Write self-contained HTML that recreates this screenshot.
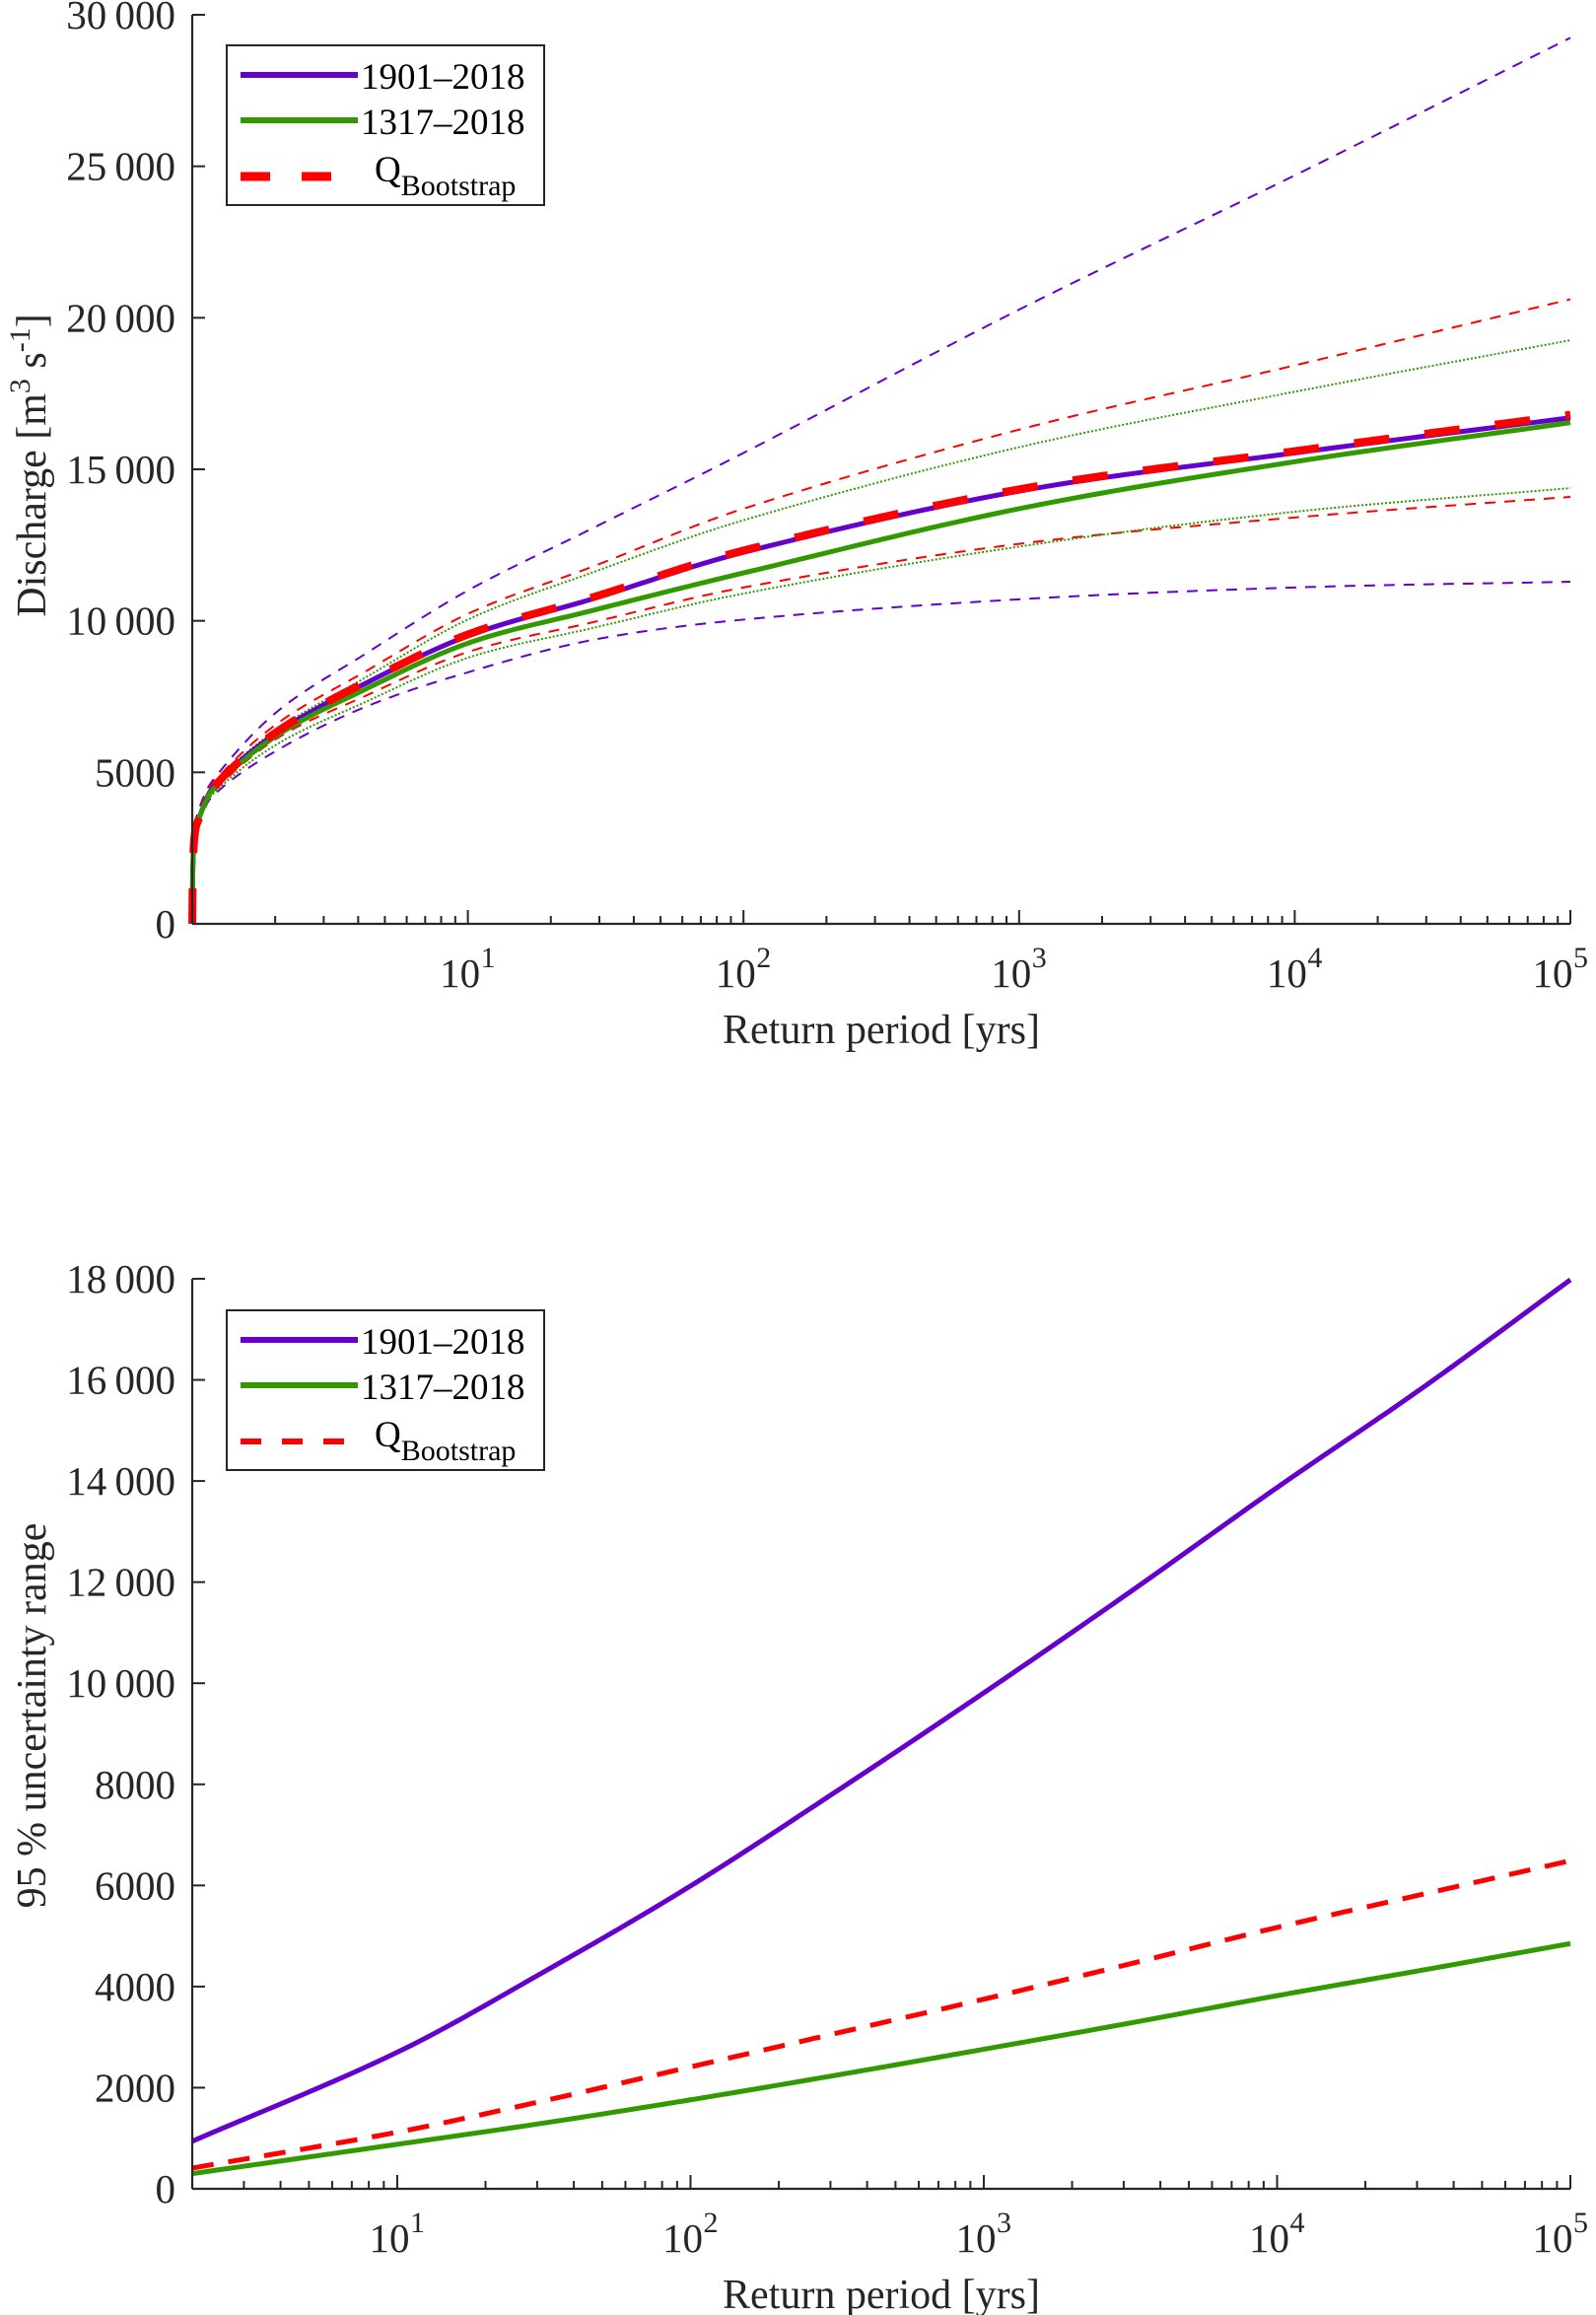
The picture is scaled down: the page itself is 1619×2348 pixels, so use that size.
<!DOCTYPE html>
<html><head><meta charset="utf-8">
<style>
html,body{margin:0;padding:0;background:#fff;}
svg{display:block;font-family:"Liberation Serif","DejaVu Serif",serif;}
</style></head>
<body>
<svg id="fig" width="1619" height="2348" viewBox="0 0 1619 2348" xmlns="http://www.w3.org/2000/svg"></svg>
<script>
// ---- Top chart data (return period [yrs] vs discharge) ----
const topT = [1.0001, 1.005, 1.02, 1.05, 1.18, 2, 4.2, 10, 28, 100, 1000, 10000, 100000];
const q1901 = [0, 1800, 2900, 3400, 4450, 6270, 7910, 9500, 10710, 12260, 14280, 15540, 16700];
const q1317 = [0, 1800, 2900, 3400, 4400, 6180, 7720, 9260, 10330, 11580, 13700, 15250, 16540];
const qBoot = [0, 1800, 2900, 3400, 4450, 6300, 7950, 9550, 10760, 12320, 14340, 15600, 16800];
const q1901Up = [0, 1800, 3000, 3700, 4700, 6950, 8880, 11000, 13030, 15540, 20270, 24700, 29240];
const q1901Lo = [0, 1800, 2800, 3300, 4200, 5690, 7140, 8300, 9360, 10040, 10710, 11100, 11290];
const qBootUp = [0, 1800, 2950, 3600, 4600, 6560, 8300, 10230, 11770, 13700, 16310, 18430, 20610];
const qBootLo = [0, 1800, 2850, 3350, 4300, 6080, 7500, 8970, 9940, 11100, 12540, 13410, 14090];
const q1317Up = [0, 1800, 2950, 3550, 4550, 6370, 8100, 10040, 11580, 13320, 15730, 17560, 19260];
const q1317Lo = [0, 1800, 2850, 3350, 4250, 5890, 7300, 8780, 9750, 10900, 12450, 13600, 14380];
const topYTicks = [0, 5000, 10000, 15000, 20000, 25000, 30000];
const topYLabels = ["0", "5000", "10\u2009000", "15\u2009000", "20\u2009000", "25\u2009000", "30\u2009000"];
// ---- Bottom chart data (95 % uncertainty range) ----
const botT = [2, 10, 31.6, 100, 316, 1000, 3162, 10000, 31623, 100000];
const u1901 = [940, 2700, 4290, 5990, 7870, 9810, 11810, 13870, 15860, 17980];
const u1317 = [300, 880, 1300, 1760, 2250, 2760, 3280, 3820, 4330, 4850];
const uBoot = [410, 1120, 1740, 2410, 3080, 3750, 4450, 5170, 5830, 6490];
const botYTicks = [0, 2000, 4000, 6000, 8000, 10000, 12000, 14000, 16000, 18000];
const botYLabels = ["0", "2000", "4000", "6000", "8000", "10\u2009000", "12\u2009000", "14\u2009000", "16\u2009000", "18\u2009000"];
const xExp = [1, 2, 3, 4, 5];

const NS = "http://www.w3.org/2000/svg";
const svg = document.getElementById("fig");
function mk(tag, attrs, parent) {
  const e = document.createElementNS(NS, tag);
  for (const k in attrs) e.setAttribute(k, attrs[k]);
  (parent || svg).appendChild(e);
  return e;
}
function makeAxes(x0, x1, tMin, tMax, yTop, yBot, vMax) {
  const lmin = Math.log10(tMin), lmax = Math.log10(tMax);
  return {
    X: t => x0 + (Math.log10(t) - lmin) / (lmax - lmin) * (x1 - x0),
    Y: v => yBot - v / vMax * (yBot - yTop)
  };
}
function pathFor(ax, T, V) {
  const n = T.length, L = T.map(t => Math.log10(t));
  let d = "";
  for (let i = 0; i < n - 1; i++) {
    const p0 = i > 0 ? i - 1 : i, p3 = i + 2 < n ? i + 2 : i + 1;
    for (let s = 0; s <= 20; s++) {
      if (i > 0 && s === 0) continue;
      const u = s / 20;
      const lx = L[i] + (L[i + 1] - L[i]) * u;
      const h00 = 2*u*u*u - 3*u*u + 1, h10 = u*u*u - 2*u*u + u, h01 = -2*u*u*u + 3*u*u, h11 = u*u*u - u*u;
      const dx = L[i + 1] - L[i];
      const m0 = (V[i + 1] - V[p0]) / (L[i + 1] - L[p0]) * dx;
      const m1 = (V[p3] - V[i]) / (L[p3] - L[i]) * dx;
      let v = h00 * V[i] + h10 * m0 + h01 * V[i + 1] + h11 * m1;
      v = Math.max(Math.min(v, Math.max(V[i], V[i + 1])), Math.min(V[i], V[i + 1]));
      const px = ax.X(Math.pow(10, lx)), py = ax.Y(v);
      d += (d ? "L" : "M") + px.toFixed(2) + " " + py.toFixed(2);
    }
  }
  return d;
}
function drawAxes(g, ax, x0, x1, yTop, yBot, tMin, yTicks, yLabels, name) {
  mk("line", {x1: x0, y1: yTop, x2: x0, y2: yBot, stroke: "#262626", "stroke-width": 2.2}, g);
  mk("line", {x1: x0, y1: yBot, x2: x1, y2: yBot, stroke: "#262626", "stroke-width": 2.2}, g);
  yTicks.forEach((v, i) => {
    const y = ax.Y(v);
    const t = mk("line", {x1: x0, y1: y, x2: x0 + 13, y2: y, stroke: "#262626", "stroke-width": 2}, g);
    
    
    const lb = mk("text", {x: x0 - 17, y: y + 14, "text-anchor": "end", "font-size": 41, fill: "#262626"}, g);
    lb.textContent = yLabels[i];
    
    
  });
  for (let e = 0; e <= 5; e++) {
    for (let m = 1; m <= 9; m++) {
      const t = m * Math.pow(10, e);
      if (t < tMin || t > 100000) continue;
      const x = ax.X(t);
      const len = m === 1 ? 14 : 8;
      mk("line", {x1: x, y1: yBot, x2: x, y2: yBot - len, stroke: "#262626", "stroke-width": 2}, g);
    }
  }
  xExp.forEach(e => {
    let x = ax.X(Math.pow(10, e)) - 8;
    if (e === 5) x -= 10;
    const tx = mk("text", {x: x, y: yBot + 64, "text-anchor": "middle", "font-size": 41, fill: "#262626"}, g);
    tx.textContent = "10";
    
    
    const sp = mk("text", {x: x + 21, y: yBot + 44, "text-anchor": "start", "font-size": 30, fill: "#262626"}, g);
    sp.textContent = String(e);
  });
}
function legend(g, x, y, boldDash, name) {
  const L = mk("g", {}, g);
  
  
  mk("rect", {x: x, y: y, width: 322, height: 162, fill: "#fff", stroke: "#262626", "stroke-width": 2}, L);
  mk("line", {x1: x + 14, y1: y + 30, x2: x + 133, y2: y + 30, stroke: "#6600cc", "stroke-width": 6}, L);
  mk("line", {x1: x + 14, y1: y + 76, x2: x + 133, y2: y + 76, stroke: "#339900", "stroke-width": 6}, L);
  mk("line", {x1: x + 14, y1: y + 133, x2: x + 133, y2: y + 133, stroke: "#ff0000", "stroke-width": boldDash ? 9 : 6, "stroke-dasharray": boldDash ? "30 32" : "21 21"}, L);
  const t1 = mk("text", {x: x + 136, y: y + 44, "font-size": 37, fill: "#000"}, L); t1.textContent = "1901–2018";
  const t2 = mk("text", {x: x + 136, y: y + 90, "font-size": 37, fill: "#000"}, L); t2.textContent = "1317–2018";
  const t3 = mk("text", {x: x + 150, y: y + 138, "font-size": 37, fill: "#000"}, L);
  t3.textContent = "Q";
  const sub = mk("tspan", {dy: 14, "font-size": 30}, t3); sub.textContent = "Bootstrap";
}
function series(g, ax, T, V, color, w, dash, name) {
  const p = mk("path", {d: pathFor(ax, T, V), fill: "none", stroke: color, "stroke-width": w, "stroke-linejoin": "round"}, g);
  if (dash) p.setAttribute("stroke-dasharray", dash);
  
  
}

// ---------- TOP ----------
const gTop = mk("g", {});


const axT = makeAxes(195, 1593, 1, 100000, 15, 937, 30000);
series(gTop, axT, topT, q1901Up, "#6600cc", 2, "11 9", "line-1901-upper-bound");
series(gTop, axT, topT, q1901Lo, "#6600cc", 2, "11 9", "line-1901-lower-bound");
series(gTop, axT, topT, qBootUp, "#ff0000", 2, "11 9", "line-bootstrap-upper-bound");
series(gTop, axT, topT, qBootLo, "#ff0000", 2, "11 9", "line-bootstrap-lower-bound");
series(gTop, axT, topT, q1317Up, "#339900", 2, "2 2", "line-1317-upper-bound");
series(gTop, axT, topT, q1317Lo, "#339900", 2, "2 2", "line-1317-lower-bound");
series(gTop, axT, topT, q1901, "#6600cc", 5, null, "line-1901-2018");
series(gTop, axT, topT, q1317, "#339900", 5, null, "line-1317-2018");
series(gTop, axT, topT, qBoot, "#ff0000", 8, "36 36", "line-q-bootstrap");
drawAxes(gTop, axT, 195, 1593, 15, 937, 1, topYTicks, topYLabels, "top");
legend(gTop, 230, 46, true, "top-legend");
let xl = mk("text", {x: 894, y: 1058, "text-anchor": "middle", "font-size": 42, fill: "#262626"}, gTop);
xl.textContent = "Return period [yrs]";


let yl = mk("text", {transform: "translate(46,472) rotate(-90)", "text-anchor": "middle", "font-size": 42, fill: "#262626"}, gTop);


yl.appendChild(document.createTextNode("Discharge [m"));
let s1 = mk("tspan", {dy: -16, "font-size": 30}, yl); s1.textContent = "3";
let s2 = mk("tspan", {dy: 16}, yl); s2.textContent = " s";
let s3 = mk("tspan", {dy: -16, "font-size": 30}, yl); s3.textContent = "-1";
let s4 = mk("tspan", {dy: 16}, yl); s4.textContent = "]";

// ---------- BOTTOM ----------
const gBot = mk("g", {});


const axB = makeAxes(195, 1593, 2, 100000, 1297, 2220, 18000);
series(gBot, axB, botT, u1317, "#339900", 5, null, "line-1317-2018");
series(gBot, axB, botT, uBoot, "#ff0000", 5, "22 15", "line-q-bootstrap");
series(gBot, axB, botT, u1901, "#6600cc", 5, null, "line-1901-2018");
drawAxes(gBot, axB, 195, 1593, 1297, 2220, 2, botYTicks, botYLabels, "bottom");
legend(gBot, 230, 1329, false, "bottom-legend");
let xl2 = mk("text", {x: 894, y: 2341, "text-anchor": "middle", "font-size": 42, fill: "#262626"}, gBot);
xl2.textContent = "Return period [yrs]";


let yl2 = mk("text", {transform: "translate(46,1740) rotate(-90)", "text-anchor": "middle", "font-size": 42, fill: "#262626"}, gBot);
yl2.textContent = "95 % uncertainty range";


</script>
</body></html>
